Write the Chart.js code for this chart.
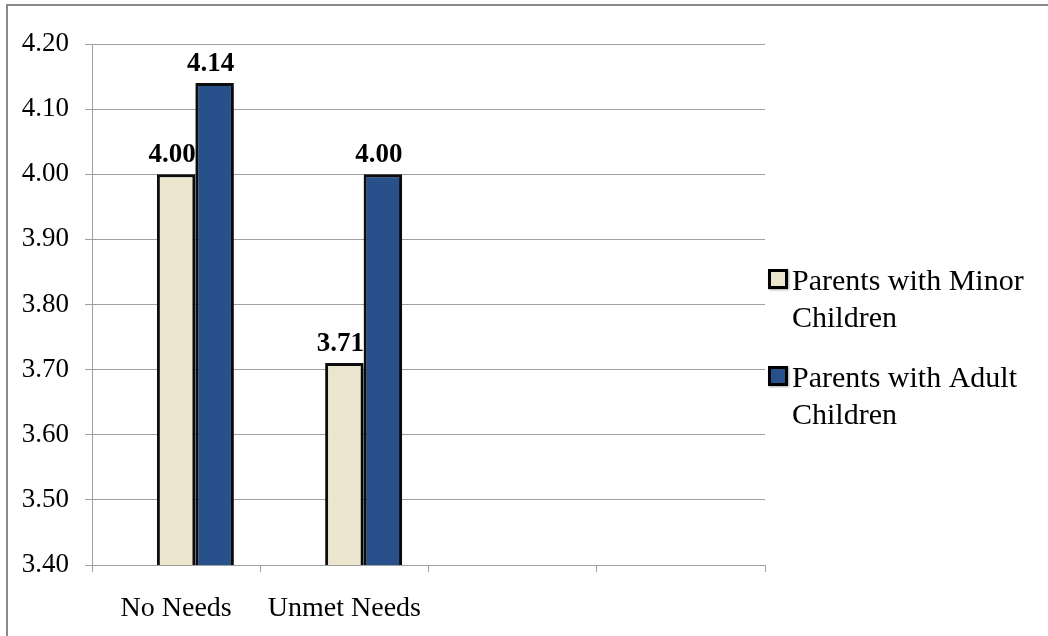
<!DOCTYPE html>
<html>
<head>
<meta charset="utf-8">
<script src="https://cdn.jsdelivr.net/npm/chart.js@4.4.1/dist/chart.umd.min.js"></script>
<style>
	html, body { margin: 0; padding: 0; background: #fff; overflow: hidden; }
	#wrap { position: relative; width: 1048px; height: 636px; }
	#frame { position: absolute; left: 6px; top: 4px; width: 1100px; height: 700px; border: 2px solid #8a8a8a; }
	#canvas { position: absolute; left: 0; top: 0; }
</style>
</head>
<body>
<div id="wrap">
	<div id="frame"></div>
	<canvas id="canvas" width="1048" height="636"></canvas>
</div>
<script>
// chart data
const categories = ['No Needs', 'Unmet Needs', '', ''];
const seriesNames = ['Parents with Minor Children', 'Parents with Adult Children'];
const spacerValues = [null, null, null, null];   // empty first series in the original sheet
const minorValues = [4.00, 3.71, null, null];
const adultValues = [4.14, 4.00, null, null];
const yMin = 3.4;
const yMax = 4.2;
const yStep = 0.1;

const serif = "'Liberation Serif', 'Times New Roman', serif";
const gridColor = '#a0a0a0';

// shadows under the bars + value labels on top
const barExtras = {
	id: 'barExtras',
	beforeDatasetsDraw(chart) {
		const ctx = chart.ctx;
		ctx.save();
		ctx.shadowColor = 'rgba(0,0,0,0.45)';
		ctx.shadowBlur = 5;
		ctx.shadowOffsetX = 3;
		ctx.shadowOffsetY = 3;
	},
	afterDatasetsDraw(chart) {
		const ctx = chart.ctx;
		ctx.restore();
		ctx.save();
		ctx.font = 'bold 27px ' + serif;
		ctx.fillStyle = '#000';
		ctx.textAlign = 'center';
		ctx.textBaseline = 'alphabetic';
		chart.data.datasets.forEach((ds, i) => {
			if (!ds.label) return;
			const meta = chart.getDatasetMeta(i);
			meta.data.forEach((bar, j) => {
				const v = ds.data[j];
				if (v == null) return;
				ctx.fillText(v.toFixed(2), bar.x - 4, bar.y - 12);
			});
		});
		ctx.restore();
	}
};

// legend on the right, with wrapped text
const sideLegend = {
	id: 'sideLegend',
	afterDraw(chart) {
		const ctx = chart.ctx;
		const x0 = chart.chartArea.right + 3;
		let y = 269;
		ctx.save();
		ctx.font = '30px ' + serif;
		ctx.textBaseline = 'alphabetic';
		chart.data.datasets.forEach((ds) => {
			if (!ds.label) return;
			// box
			ctx.save();
			ctx.shadowColor = 'rgba(0,0,0,0.35)';
			ctx.shadowBlur = 2;
			ctx.shadowOffsetX = 1;
			ctx.shadowOffsetY = 1;
			ctx.fillStyle = '#000';
			ctx.fillRect(x0, y, 20, 20);
			ctx.restore();
			ctx.fillStyle = ds.backgroundColor;
			ctx.fillRect(x0 + 3, y + 3, 14, 14);
			// text
			const words = ds.label.split(' ');
			const lines = [];
			let line = '';
			words.forEach((w) => {
				const test = line ? line + ' ' + w : w;
				if (ctx.measureText(test).width > 250 && line) {
					lines.push(line);
					line = w;
				} else {
					line = test;
				}
			});
			lines.push(line);
			ctx.fillStyle = '#000';
			lines.forEach((l, k) => {
				ctx.fillText(l, x0 + 24, y + 21 + k * 37);
			});
			y += 97;
		});
		ctx.restore();
	}
};

const ctx = document.getElementById('canvas');
new Chart(ctx, {
	type: 'bar',
	data: {
		labels: categories,
		datasets: [
			{
				label: '',
				data: spacerValues,
				backgroundColor: '#ffffff'
			},
			{
				label: seriesNames[0],
				data: minorValues,
				backgroundColor: '#ede6cf',
				borderColor: '#0d0d0d',
				borderWidth: 3,
				borderSkipped: false
			},
			{
				label: seriesNames[1],
				data: adultValues,
				backgroundColor: '#28508a',
				borderColor: '#0d0d0d',
				borderWidth: 3,
				borderSkipped: false
			}
		]
	},
	options: {
		responsive: false,
		animation: false,
		devicePixelRatio: 1,
		categoryPercentage: 0.686,
		barPercentage: 1.0,
		layout: {
			padding: { left: 0, top: 44, right: 283, bottom: 0 }
		},
		plugins: {
			legend: { display: false },
			tooltip: { enabled: false }
		},
		scales: {
			x: {
				grid: {
					display: true,
					drawOnChartArea: false,
					offset: true,
					tickLength: 7,
					color: gridColor
				},
				border: { color: gridColor },
				ticks: {
					font: { family: serif, size: 28 },
					color: '#000',
					padding: 20,
					maxRotation: 0,
					autoSkip: false
				},
				afterFit(scale) { scale.height = 71; }
			},
			y: {
				min: yMin,
				max: yMax,
				grid: {
					color: gridColor,
					tickLength: 7
				},
				border: { color: gridColor },
				ticks: {
					stepSize: yStep,
					font: { family: serif, size: 27 },
					color: '#000',
					padding: 16,
					callback: (v) => Number(v).toFixed(2)
				},
				afterFit(scale) { scale.width = 92; }
			}
		}
	},
	plugins: [barExtras, sideLegend]
});
</script>
</body>
</html>
